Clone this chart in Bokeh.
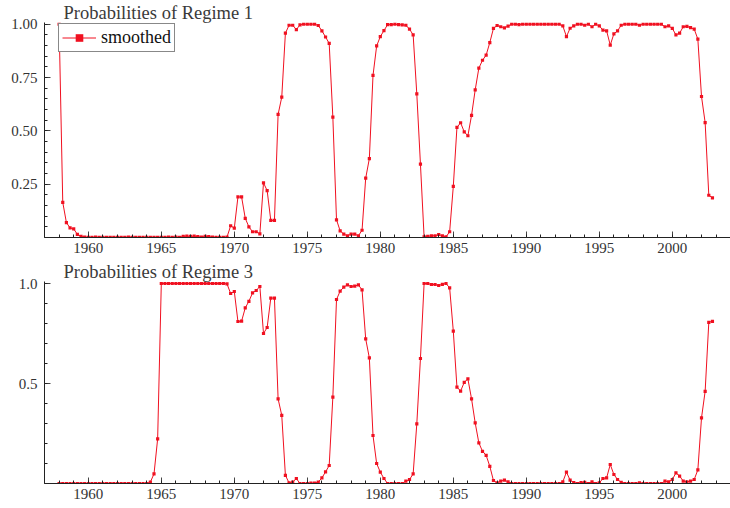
import numpy as np
from bokeh.plotting import figure
from bokeh.layouts import column
from bokeh.models import Range1d, FixedTicker, Legend, LegendItem
from bokeh.embed import file_html
from bokeh.resources import INLINE

# quarterly dates 1958Q1 .. 2002Q4
start_year = 1958
n_quarters = 180
dates = start_year + np.arange(n_quarters) / 4.0

regime1_smoothed = [
    1.0, 0.165, 0.07, 0.045,        # 1958
    0.04, 0.015, 0.005, 0.002,      # 1959
    0.001, 0.001, 0.002, 0.001,     # 1960
    0.001, 0.001, 0.001, 0.001,     # 1961
    0.001, 0.001, 0.001, 0.002,     # 1962
    0.001, 0.001, 0.001, 0.001,     # 1963
    0.001, 0.001, 0.001, 0.001,     # 1964
    0.001, 0.001, 0.002, 0.001,     # 1965
    0.002, 0.001, 0.005, 0.006,     # 1966
    0.005, 0.006, 0.004, 0.002,     # 1967
    0.005, 0.004, 0.002, 0.001,     # 1968
    0.001, 0.001, 0.002, 0.055,     # 1969
    0.044, 0.19, 0.19, 0.09,        # 1970
    0.05, 0.027, 0.027, 0.017,      # 1971
    0.256, 0.22, 0.08, 0.08,        # 1972
    0.577, 0.658, 0.958, 0.995,     # 1973
    0.995, 0.975, 0.997, 1.0,       # 1974
    1.0, 1.0, 1.0, 0.994,           # 1975
    0.969, 0.94, 0.91, 0.564,       # 1976
    0.083, 0.031, 0.016, 0.008,     # 1977
    0.016, 0.016, 0.008, 0.034,     # 1978
    0.278, 0.37, 0.76, 0.898,       # 1979
    0.942, 0.97, 0.998, 0.998,      # 1980
    1.0, 0.998, 0.997, 0.995,       # 1981
    0.977, 0.95, 0.673, 0.344,      # 1982
    0.003, 0.005, 0.008, 0.008,     # 1983
    0.014, 0.008, 0.003, 0.027,     # 1984
    0.24, 0.516, 0.538, 0.495,      # 1985
    0.477, 0.573, 0.692, 0.794,     # 1986
    0.831, 0.855, 0.914, 0.98,      # 1987
    0.994, 0.988, 0.983, 0.991,     # 1988
    1.0, 1.0, 0.998, 1.0,           # 1989
    1.0, 1.0, 1.0, 1.0,             # 1990
    1.0, 1.0, 1.0, 1.0,             # 1991
    1.0, 1.0, 0.992, 0.942,         # 1992
    0.981, 0.992, 1.0, 1.0,         # 1993
    0.995, 1.0, 0.988, 1.0,         # 1994
    0.992, 0.972, 0.969, 0.902,     # 1995
    0.955, 0.969, 0.995, 1.0,       # 1996
    1.0, 1.0, 1.0, 0.995,           # 1997
    1.0, 1.0, 1.0, 1.0,             # 1998
    1.0, 1.0, 0.988, 0.992,         # 1999
    0.98, 0.95, 0.958, 0.988,       # 2000
    0.99, 0.984, 0.977, 0.93,       # 2001
    0.661, 0.539, 0.198, 0.186,     # 2002
]

regime3_smoothed = [
    0.0, 0.0, 0.0, 0.0,             # 1958
    0.0, 0.0, 0.0, 0.0,             # 1959
    0.0, 0.0, 0.0, 0.0,             # 1960
    0.0, 0.0, 0.0, 0.0,             # 1961
    0.0, 0.0, 0.0, 0.0,             # 1962
    0.0, 0.0, 0.0, 0.0,             # 1963
    0.0, 0.007, 0.048, 0.223,       # 1964
    1.0, 1.0, 1.0, 1.0,             # 1965
    1.0, 1.0, 1.0, 1.0,             # 1966
    1.0, 1.0, 1.0, 1.0,             # 1967
    1.0, 1.0, 1.0, 1.0,             # 1968
    1.0, 1.0, 0.998, 0.95,          # 1969
    0.96, 0.81, 0.812, 0.878,       # 1970
    0.911, 0.953, 0.965, 0.985,     # 1971
    0.75, 0.78, 0.927, 0.927,       # 1972
    0.423, 0.341, 0.041, 0.003,     # 1973
    0.007, 0.025, 0.0, 0.0,         # 1974
    0.0, 0.002, 0.002, 0.007,       # 1975
    0.028, 0.058, 0.09, 0.432,      # 1976
    0.92, 0.962, 0.982, 0.993,      # 1977
    0.985, 0.987, 0.993, 0.968,     # 1978
    0.723, 0.628, 0.24, 0.1,        # 1979
    0.057, 0.025, 0.0, 0.0,         # 1980
    0.0, 0.0, 0.0, 0.012,           # 1981
    0.02, 0.048, 0.298, 0.625,      # 1982
    1.0, 1.0, 0.995, 0.995,         # 1983
    0.99, 0.996, 1.0, 0.978,        # 1984
    0.762, 0.482, 0.462, 0.506,     # 1985
    0.523, 0.423, 0.303, 0.203,     # 1986
    0.161, 0.141, 0.086, 0.015,     # 1987
    0.003, 0.012, 0.017, 0.008,     # 1988
    0.0, 0.0, 0.0, 0.0,             # 1989
    0.0, 0.0, 0.0, 0.0,             # 1990
    0.0, 0.0, 0.0, 0.0,             # 1991
    0.0, 0.0, 0.008, 0.057,         # 1992
    0.017, 0.005, 0.0, 0.005,       # 1993
    0.006, 0.0, 0.008, 0.0,         # 1994
    0.003, 0.025, 0.028, 0.095,     # 1995
    0.045, 0.02, 0.006, 0.0,        # 1996
    0.0, 0.0, 0.0, 0.003,           # 1997
    0.0, 0.0, 0.0, 0.0,             # 1998
    0.0, 0.0, 0.012, 0.008,         # 1999
    0.02, 0.053, 0.037, 0.012,      # 2000
    0.008, 0.012, 0.02, 0.068,      # 2001
    0.328, 0.461, 0.806, 0.811,     # 2002
]

x_major = [1960, 1965, 1970, 1975, 1980, 1985, 1990, 1995, 2000]
x_minor = list(range(1957, 2004))
top_y_major = [0.25, 0.5, 0.75, 1.0]
top_y_minor = [round(0.05 * k, 2) for k in range(0, 21)]
bot_y_major = [0.5, 1.0]
bot_y_minor = [round(0.1 * k, 1) for k in range(0, 11)]

titles = ["Probabilities of Regime 1", "Probabilities of Regime 3"]
legend_text = "smoothed"

RED = "#f01020"
SERIF = "'Liberation Serif', 'Times New Roman', serif"
FRAME_W = 686
X0, X1 = 1957.0, 1957.0 + FRAME_W / 14.6


def make_panel(vals, title, y_end, frame_h, y_major, y_minor, label_fmt, top_border,
               bottom_border, with_legend):
    p = figure(frame_width=FRAME_W, frame_height=frame_h, output_backend="svg",
               toolbar_location=None, x_range=Range1d(X0, X1), y_range=Range1d(0, y_end),
               min_border_left=44, min_border_right=0, min_border_top=top_border,
               min_border_bottom=bottom_border, title=title)
    p.outline_line_color = None
    p.xgrid.visible = False
    p.ygrid.visible = False
    p.background_fill_color = "white"
    p.border_fill_color = "white"

    p.title.text_font = SERIF
    p.title.text_font_size = "18.5px"
    p.title.text_font_style = "normal"
    p.title.text_color = "#3a3a3a"
    p.title.align = "left"
    p.title.offset = 19
    p.title.standoff = 0
    p.title.vertical_align = "bottom"

    r_line = p.line(dates, vals, line_color=RED, line_width=1)
    r_pts = p.scatter(dates, vals, marker="square", size=3.2, fill_color=RED, line_color=None)

    for ax in (p.xaxis[0], p.yaxis[0]):
        ax.axis_line_color = "#222222"
        ax.axis_line_width = 1
        ax.major_tick_out = 0
        ax.minor_tick_out = 0
        ax.major_tick_in = 6
        ax.minor_tick_in = 3
        ax.major_tick_line_color = "#444444"
        ax.minor_tick_line_color = "#222222"
        ax.major_label_text_font = SERIF
        ax.major_label_text_font_size = "15px"
        ax.major_label_text_color = "#333333"
    p.xaxis[0].ticker = FixedTicker(ticks=x_major, minor_ticks=x_minor)
    p.xaxis[0].major_label_standoff = 5
    p.yaxis[0].ticker = FixedTicker(ticks=y_major, minor_ticks=y_minor)
    p.yaxis[0].major_label_standoff = 7
    p.yaxis[0].major_label_overrides = {v: label_fmt.format(v) for v in y_major}

    if with_legend:
        leg = Legend(items=[LegendItem(label=legend_text, renderers=[r_line, r_pts])],
                     location=(14, frame_h - 5 - 25))
        leg.label_text_font = SERIF
        leg.label_text_font_size = "18px"
        leg.label_text_color = "#111111"
        leg.border_line_color = "#111111"
        leg.border_line_width = 1
        leg.background_fill_alpha = 1.0
        leg.padding = 3
        leg.margin = 0
        leg.spacing = 0
        leg.glyph_width = 34
        leg.glyph_height = 19
        leg.label_height = 19
        leg.label_standoff = 5
        p.add_layout(leg)
    return p


p1 = make_panel(regime1_smoothed, titles[0], 215 / 213.3, 215, top_y_major, top_y_minor,
                "{:.2f}", 22, 22, True)
p2 = make_panel(regime3_smoothed, titles[1], 202 / 200.0, 202, bot_y_major, bot_y_minor,
                "{:.1f}", 21, 24, False)

layout = column(p1, p2, spacing=0)
open("out.html", "w").write(file_html(layout, INLINE))
